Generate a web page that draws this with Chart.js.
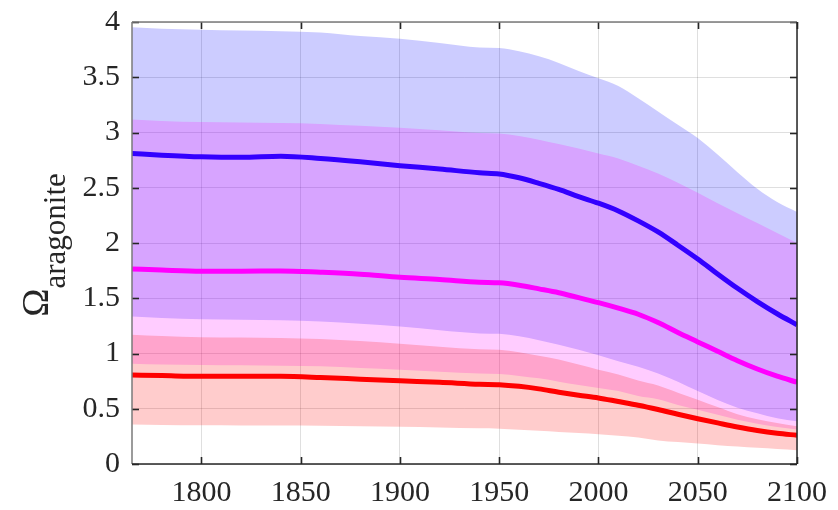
<!DOCTYPE html>
<html><head><meta charset="utf-8">
<script src="https://cdn.jsdelivr.net/npm/chart.js@4/dist/chart.umd.min.js"></script>
<style>html,body{margin:0;padding:0;background:#fff}#wrap{width:838px;height:510px}</style>
</head><body><div id="wrap"><canvas id="c" width="838" height="510"></canvas></div>
<script>
const years = [1765,1780,1800,1820,1840,1860,1880,1900,1920,1940,1950,1960,1970,1980,1990,2000,2010,2020,2030,2040,2050,2060,2070,2080,2090,2100];

const blueMean  = [2.81,2.795,2.78,2.775,2.785,2.765,2.735,2.70,2.67,2.635,2.625,2.59,2.54,2.485,2.42,2.36,2.29,2.20,2.10,1.98,1.855,1.72,1.59,1.47,1.36,1.26];
const blueUpper = [3.953,3.94,3.93,3.922,3.917,3.905,3.873,3.848,3.81,3.77,3.765,3.735,3.69,3.63,3.556,3.49,3.42,3.31,3.19,3.07,2.95,2.80,2.64,2.49,2.37,2.28];
const blueLower = [1.335,1.322,1.311,1.305,1.30,1.29,1.27,1.244,1.21,1.182,1.178,1.155,1.12,1.08,1.035,0.985,0.93,0.88,0.82,0.745,0.66,0.58,0.51,0.46,0.415,0.386];

const magMean  = [1.765,1.755,1.745,1.745,1.747,1.735,1.718,1.69,1.67,1.645,1.64,1.618,1.585,1.55,1.505,1.46,1.41,1.355,1.28,1.19,1.105,1.02,0.935,0.86,0.795,0.74];
const magUpper = [3.117,3.105,3.095,3.09,3.086,3.078,3.06,3.043,3.02,2.995,2.99,2.968,2.935,2.895,2.855,2.81,2.765,2.70,2.63,2.545,2.455,2.36,2.27,2.18,2.09,2.0];
const magLower = [0.907,0.90,0.896,0.893,0.89,0.884,0.868,0.853,0.835,0.818,0.814,0.797,0.775,0.745,0.715,0.688,0.66,0.615,0.585,0.535,0.492,0.445,0.40,0.365,0.335,0.312];

const redMean  = [0.805,0.80,0.793,0.793,0.793,0.783,0.768,0.753,0.74,0.722,0.718,0.703,0.68,0.65,0.623,0.598,0.565,0.532,0.493,0.45,0.41,0.372,0.335,0.303,0.278,0.26];
const redUpper = [1.169,1.158,1.148,1.145,1.141,1.132,1.112,1.088,1.06,1.038,1.034,1.012,0.98,0.945,0.90,0.853,0.81,0.755,0.71,0.645,0.582,0.515,0.45,0.405,0.37,0.341];
const redLower = [0.357,0.353,0.35,0.349,0.348,0.346,0.342,0.336,0.33,0.323,0.32,0.31,0.30,0.29,0.28,0.27,0.255,0.24,0.213,0.198,0.185,0.17,0.158,0.146,0.135,0.125];

const xTickValues = [1800,1850,1900,1950,2000,2050,2100];
const yTickValues = [0,0.5,1,1.5,2,2.5,3,3.5,4];
const yTitleMain = 'Ω';
const yTitleSub = 'aragonite';

const pts = arr => arr.map((v,i)=>({x:years[i], y:v}));
const FONT = "'Liberation Serif','Times New Roman',serif";

function bound(data, color, order, fill){
  return {data: pts(data), borderWidth: 0, pointRadius: 0, backgroundColor: color,
          fill: fill ? '+1' : false, order: order, cubicInterpolationMode: 'monotone'};
}
function line(data, color){
  return {data: pts(data), borderColor: color, borderWidth: 5, pointRadius: 0, fill: false,
          order: 0, cubicInterpolationMode: 'monotone', borderCapStyle: 'butt'};
}

const yTitlePlugin = {
  id: 'yTitle',
  afterDraw(chart){
    const ctx = chart.ctx, a = chart.chartArea;
    const cy = (a.top + a.bottom) / 2 + 2;
    ctx.save();
    ctx.translate(48, cy);
    ctx.rotate(-Math.PI/2);
    ctx.fillStyle = '#262626';
    ctx.textBaseline = 'alphabetic';
    ctx.font = '38px ' + FONT;
    const w1 = ctx.measureText(yTitleMain).width;
    ctx.font = '31px ' + FONT;
    const w2 = ctx.measureText(yTitleSub).width;
    const start = -(w1 + w2) / 2;
    ctx.font = '38px ' + FONT;
    ctx.fillText(yTitleMain, start, 0);
    ctx.font = '31px ' + FONT;
    ctx.fillText(yTitleSub, start + w1, 17);
    ctx.restore();
  }
};

const boxPlugin = {
  id: 'boxTicks',
  afterDraw(chart){
    const {ctx, chartArea: a, scales: {x, y}} = chart;
    ctx.save();
    const seg = (x1,y1,x2,y2,c,w)=>{ctx.beginPath();ctx.strokeStyle=c;ctx.lineWidth=w;ctx.moveTo(x1,y1);ctx.lineTo(x2,y2);ctx.stroke();};
    const tc = '#262626', L = 7;
    xTickValues.forEach(v=>{const p = Math.round(x.getPixelForValue(v))+0.5;
      seg(p,a.bottom,p,a.bottom-L,tc,1.6); seg(p,a.top,p,a.top+L,tc,1.6);});
    yTickValues.forEach(v=>{const p = Math.round(y.getPixelForValue(v))+0.5;
      seg(a.left,p,a.left+L,p,tc,1.6); seg(a.right,p,a.right-L,p,tc,1.6);});
    seg(a.left,a.top,a.right,a.top,'#7a7a7a',1.5);
    seg(a.left,a.top,a.left,a.bottom,'#7a7a7a',1.5);
    seg(a.left,a.bottom,a.right,a.bottom,'#262626',1.5);
    seg(a.right,a.top,a.right,a.bottom,'#262626',1.5);
    ctx.restore();
  }
};

new Chart(document.getElementById('c'), {
  type: 'line',
  data: {
    datasets: [
      bound(blueUpper, 'rgba(0,0,255,0.2)', 3, true),
      bound(blueLower, 'rgba(0,0,255,0.2)', 3, false),
      bound(magUpper, 'rgba(255,0,255,0.2)', 2, true),
      bound(magLower, 'rgba(255,0,255,0.2)', 2, false),
      bound(redUpper, 'rgba(255,0,0,0.2)', 1, true),
      bound(redLower, 'rgba(255,0,0,0.2)', 1, false),
      line(blueMean, '#3300ff'),
      line(magMean, '#ff00ff'),
      line(redMean, '#ff0000')
    ]
  },
  options: {
    responsive: false,
    animation: false,
    devicePixelRatio: 1,
    layout: {padding: {left: 0, right: 41, top: 22, bottom: 0}},
    plugins: {legend: {display: false}, tooltip: {enabled: false}},
    scales: {
      x: {
        type: 'linear', min: 1765, max: 2100, z: 1,
        afterBuildTicks: s => { s.ticks = xTickValues.map(v=>({value:v})); },
        afterFit: s => { s.height = 46; s.paddingLeft = 0; s.paddingRight = 0; },
        grid: {color: 'rgba(38,38,38,0.15)', drawTicks: false, lineWidth: 1},
        border: {display: false},
        ticks: {color: '#262626', font: {family: FONT, size: 30}, padding: 11, maxRotation: 0,
                callback: v => String(v)}
      },
      y: {
        type: 'linear', min: 0, max: 4, z: 1,
        afterBuildTicks: s => { s.ticks = yTickValues.map(v=>({value:v})); },
        afterFit: s => { s.width = 132; s.paddingTop = 0; s.paddingBottom = 0; },
        grid: {color: 'rgba(38,38,38,0.15)', drawTicks: false, lineWidth: 1},
        border: {display: false},
        ticks: {color: '#262626', font: {family: FONT, size: 30}, padding: 12,
                callback: v => String(v)}
      }
    }
  },
  plugins: [yTitlePlugin, boxPlugin]
});
</script>
</body></html>
